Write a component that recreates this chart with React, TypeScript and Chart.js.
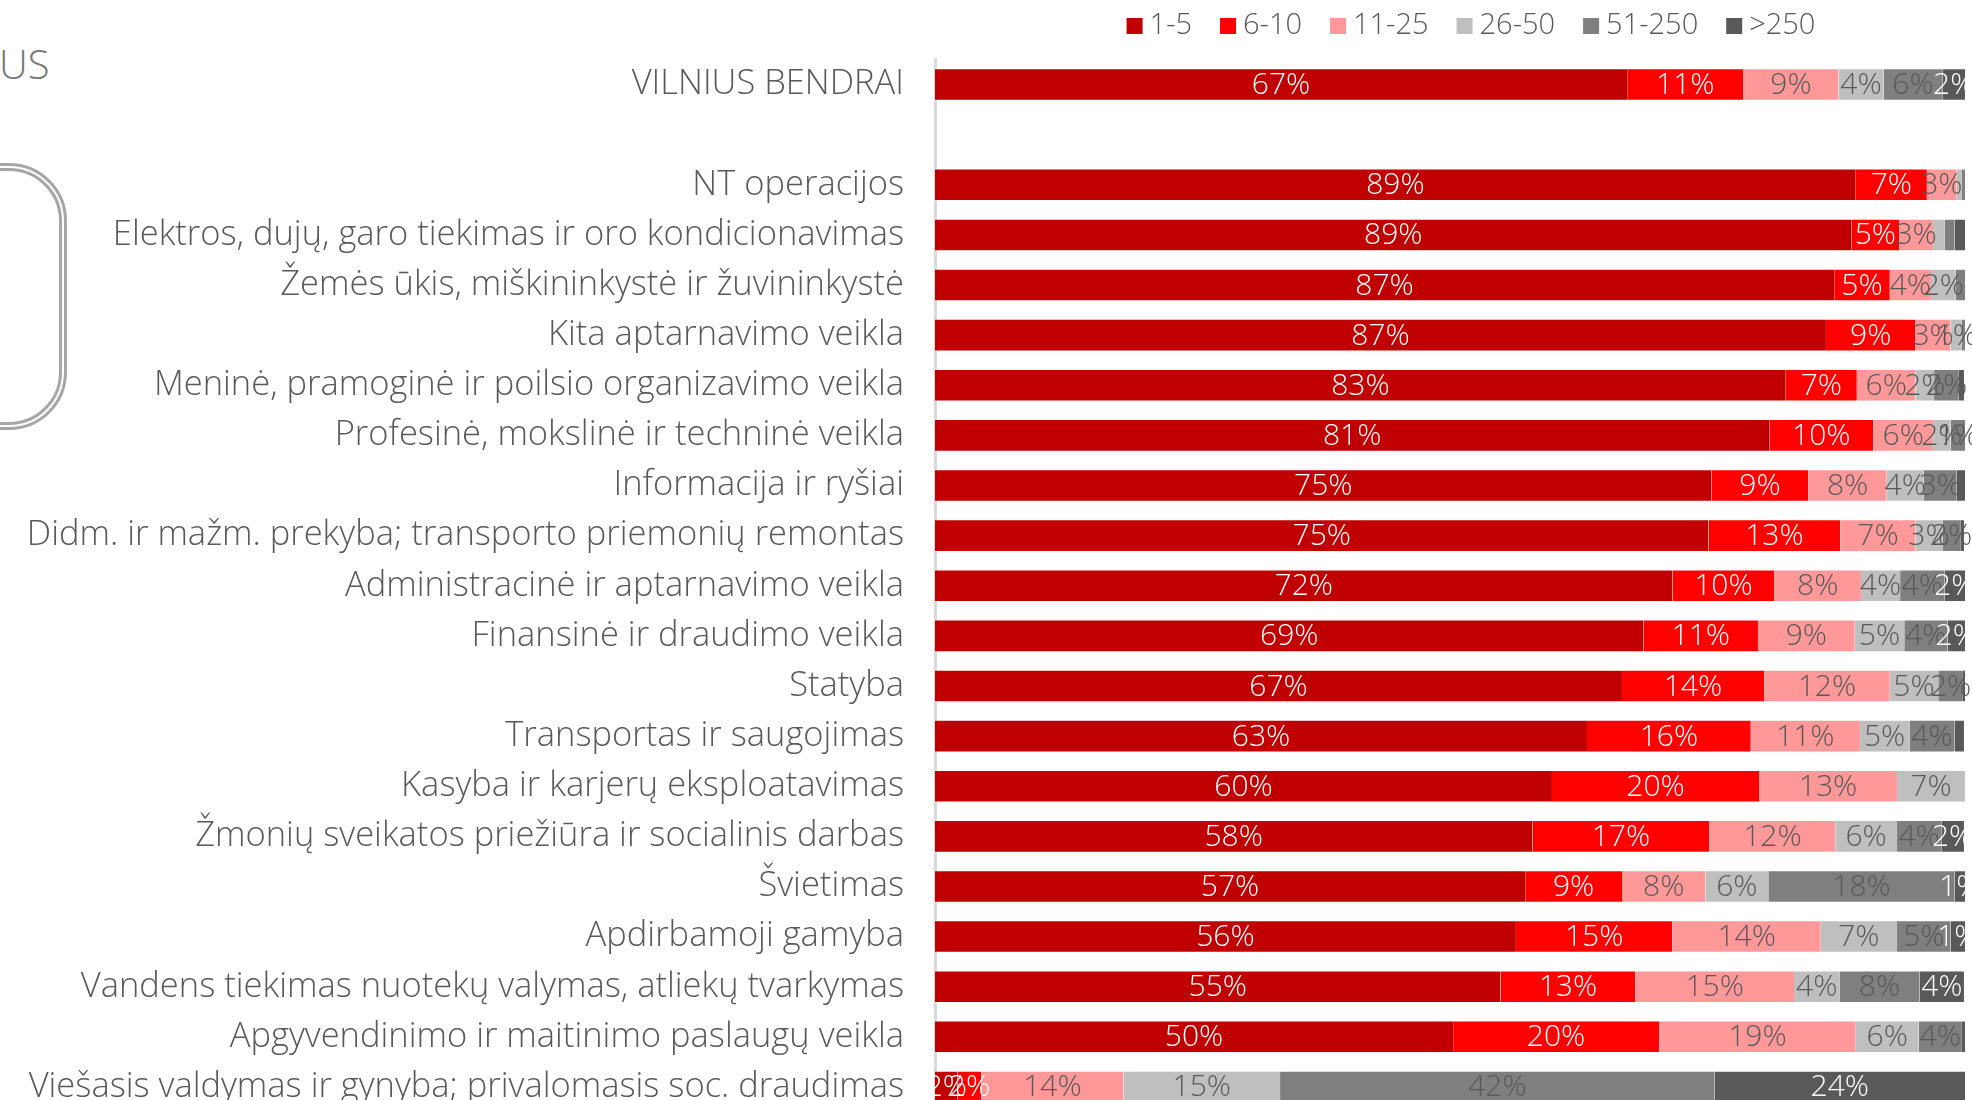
import React, { useEffect, useRef } from "react";
import { Chart, registerables } from "chart.js";

Chart.register(...registerables);

const categories = [
  "VILNIUS BENDRAI",
  "",
  "NT operacijos",
  "Elektros, dujų, garo tiekimas ir oro kondicionavimas",
  "Žemės ūkis, miškininkystė ir žuvininkystė",
  "Kita aptarnavimo veikla",
  "Meninė, pramoginė ir poilsio organizavimo veikla",
  "Profesinė, mokslinė ir techninė veikla",
  "Informacija ir ryšiai",
  "Didm. ir mažm. prekyba; transporto priemonių remontas",
  "Administracinė ir aptarnavimo veikla",
  "Finansinė ir draudimo veikla",
  "Statyba",
  "Transportas ir saugojimas",
  "Kasyba ir karjerų eksploatavimas",
  "Žmonių sveikatos priežiūra ir socialinis darbas",
  "Švietimas",
  "Apdirbamoji gamyba",
  "Vandens tiekimas nuotekų valymas, atliekų tvarkymas",
  "Apgyvendinimo ir maitinimo paslaugų veikla",
  "Viešasis valdymas ir gynyba; privalomasis soc. draudimas",
];

const seriesNames = ["1-5", "6-10", "11-25", "26-50", "51-250", ">250"];

const size1to5 = [67.2, null, 89.4, 89.0, 87.3, 86.5, 82.6, 81.0, 75.4, 75.1, 71.6, 68.8, 66.7, 63.3, 59.9, 58.0, 57.3, 56.4, 54.9, 50.3, 2.2];
const size6to10 = [11.3, null, 6.9, 4.6, 5.4, 8.7, 6.9, 10.1, 9.4, 12.8, 9.9, 11.1, 13.8, 15.9, 20.1, 17.2, 9.4, 15.2, 13.1, 20.0, 2.3];
const size11to25 = [9.2, null, 2.9, 3.3, 4.0, 3.4, 5.7, 5.8, 7.6, 7.3, 8.4, 9.4, 12.2, 10.6, 13.4, 12.2, 8.1, 14.4, 15.4, 19.1, 13.8];
const size26to50 = [4.4, null, 0.5, 1.1, 2.4, 1.1, 1.8, 1.7, 3.6, 2.6, 3.8, 4.8, 4.7, 4.8, 6.6, 6.0, 6.1, 7.4, 4.4, 6.1, 15.2];
const size51to250 = [5.7, null, 0.3, 1.0, 0.9, 0.3, 2.4, 1.4, 3.2, 1.8, 4.3, 4.2, 2.4, 4.4, 0, 4.3, 18.1, 5.2, 7.8, 4.2, 42.2];
const sizeOver250 = [2.2, null, 0, 1.1, 0, 0, 0.5, 0, 0.8, 0.3, 2.0, 1.7, 0.2, 0.9, 0, 2.2, 1.0, 1.4, 4.3, 0.3, 24.3];

// labels removed in the original (category index, series index)
const hiddenLabels = [
  [3, 3],
  [3, 4],
  [3, 5],
];

const seriesColors = ["#C00000", "#FF0000", "#FF9999", "#BFBFBF", "#7F7F7F", "#595959"];
const labelColors = ["#FFFFFF", "#FFFFFF", "#595959", "#595959", "#595959", "#FFFFFF"];

const FONT_FAMILY = '"Open Sans", "DejaVu Sans", sans-serif';
const FONT_WEIGHT = 300;
const AXIS_SIZE = 34.5;
const VALUE_SIZE = 30;
const LEGEND_SIZE = 29;
const TEXT_COLOR = "#595959";

const barLabels = {
  id: "barLabels",
  afterDatasetsDraw(chart: any) {
    const ctx = chart.ctx;
    ctx.save();
    ctx.font = `${FONT_WEIGHT} ${VALUE_SIZE}px ${FONT_FAMILY}`;
    ctx.textAlign = "center";
    ctx.textBaseline = "middle";
    chart.data.datasets.forEach((ds: any, di: number) => {
      const meta = chart.getDatasetMeta(di);
      meta.data.forEach((bar: any, i: number) => {
        const v = ds.data[i];
        if (v == null || v < 1) return;
        if (hiddenLabels.some(([c, s]) => c === i && s === di)) return;
        const p = bar.getProps(["x", "y", "base"], true);
        ctx.fillStyle = labelColors[di];
        ctx.fillText(Math.round(v) + "%", (p.x + p.base) / 2, p.y + 1);
      });
    });
    ctx.restore();
  },
};

const topLegend = {
  id: "topLegend",
  afterDraw(chart: any) {
    const ctx = chart.ctx;
    const area = chart.chartArea;
    ctx.save();
    ctx.font = `${FONT_WEIGHT} ${LEGEND_SIZE}px ${FONT_FAMILY}`;
    ctx.textBaseline = "middle";
    ctx.textAlign = "left";
    const box = 16;
    const gap = 7;
    const spacing = 28;
    const widths = seriesNames.map((n) => box + gap + ctx.measureText(n).width);
    const total = widths.reduce((a, b) => a + b, 0) + spacing * (seriesNames.length - 1);
    const center = (area.left + area.right) / 2 + 21;
    const yMid = 26;
    let x = center - total / 2;
    seriesNames.forEach((n, i) => {
      ctx.fillStyle = seriesColors[i];
      ctx.fillRect(x, yMid - box / 2, box, box);
      ctx.fillStyle = TEXT_COLOR;
      ctx.fillText(n, x + box + gap, yMid);
      x += widths[i] + spacing;
    });
    ctx.restore();
  },
};

export default function App() {
  const canvasRef = useRef<HTMLCanvasElement | null>(null);

  useEffect(() => {
    if (!canvasRef.current) return;
    const seriesData = [size1to5, size6to10, size11to25, size26to50, size51to250, sizeOver250];
    const chart = new Chart(canvasRef.current, {
      type: "bar",
      data: {
        labels: categories,
        datasets: seriesData.map((d, i) => ({
          label: seriesNames[i],
          data: d,
          backgroundColor: seriesColors[i],
          borderColor: "rgba(255,255,255,0.45)",
          borderWidth: { top: 1, bottom: 1, left: 0, right: 0 },
          borderSkipped: false,
          categoryPercentage: 1,
          barPercentage: 0.65,
        })),
      },
      options: {
        indexAxis: "y",
        animation: false,
        responsive: false,
        devicePixelRatio: 1,
        layout: { padding: { top: 59.5, bottom: 21, right: 7, left: 0 } },
        plugins: {
          legend: { display: false },
          tooltip: { enabled: false },
          title: { display: false },
        },
        scales: {
          x: {
            stacked: true,
            min: 0,
            max: 100,
            display: false,
          },
          y: {
            stacked: true,
            grid: { display: false, drawTicks: true, tickLength: 31 },
            border: { display: true, color: "#D9D9D9", width: 3 },
            ticks: {
              autoSkip: false,
              padding: 0,
              color: TEXT_COLOR,
              font: { family: FONT_FAMILY, size: AXIS_SIZE, weight: FONT_WEIGHT as any },
            },
            afterFit(scale: any) {
              scale.width = 935;
            },
          },
        },
      } as any,
      plugins: [barLabels, topLegend],
    });
    return () => chart.destroy();
  }, []);

  return (
    <div
      style={{
        position: "fixed",
        left: 0,
        top: 0,
        width: 1972,
        height: 1133,
        background: "#FFFFFF",
        overflow: "hidden",
      }}
    >
      <div
        style={{
          position: "absolute",
          left: -1,
          top: 38,
          fontFamily: FONT_FAMILY,
          fontWeight: 300,
          fontSize: 40,
          lineHeight: "52px",
          color: "#767676",
        }}
      >
        US
      </div>
      <div
        style={{
          position: "absolute",
          left: -100,
          top: 163,
          width: 167,
          height: 267,
          boxSizing: "border-box",
          border: "8px double #A6A6A6",
          borderRadius: 58,
        }}
      />
      <canvas
        ref={canvasRef}
        width={1972}
        height={1133}
        style={{ position: "absolute", left: 0, top: 0, width: 1972, height: 1133 }}
      />
    </div>
  );
}
